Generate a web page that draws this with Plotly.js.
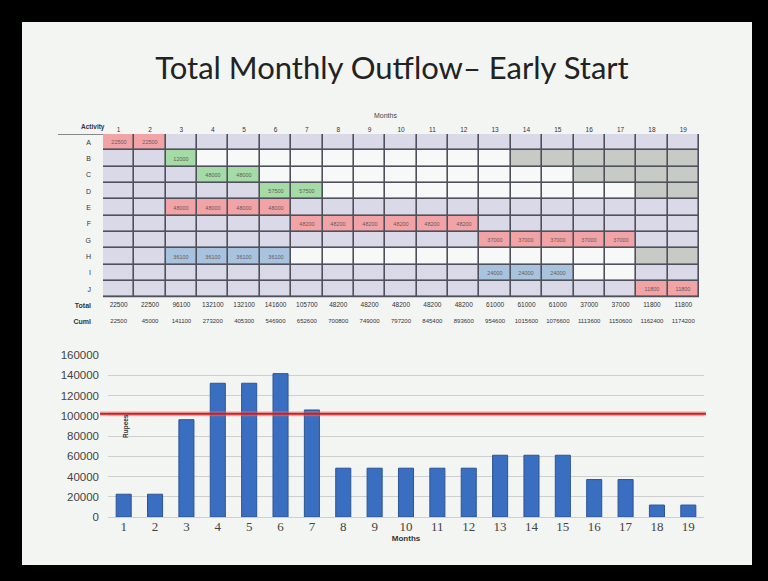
<!DOCTYPE html>
<html>
<head>
<meta charset="utf-8">
<script src="https://cdn.plot.ly/plotly-3.0.1.min.js"></script>
<style>html,body{margin:0;padding:0;background:#000;}#chart{width:768px;height:581px;}</style>
</head>
<body>
<div id="chart"></div>
<script>
// ---- data ----
const months = [1,2,3,4,5,6,7,8,9,10,11,12,13,14,15,16,17,18,19];
const activities = ['A','B','C','D','E','F','G','H','I','J'];
const n = null;
const rowA = [22500,22500,n,n,n,n,n,n,n,n,n,n,n,n,n,n,n,n,n];
const rowB = [n,n,12000,n,n,n,n,n,n,n,n,n,n,n,n,n,n,n,n];
const rowC = [n,n,n,48000,48000,n,n,n,n,n,n,n,n,n,n,n,n,n,n];
const rowD = [n,n,n,n,n,57500,57500,n,n,n,n,n,n,n,n,n,n,n,n];
const rowE = [n,n,48000,48000,48000,48000,n,n,n,n,n,n,n,n,n,n,n,n,n];
const rowF = [n,n,n,n,n,n,48200,48200,48200,48200,48200,48200,n,n,n,n,n,n,n];
const rowG = [n,n,n,n,n,n,n,n,n,n,n,n,37000,37000,37000,37000,37000,n,n];
const rowH = [n,n,36100,36100,36100,36100,n,n,n,n,n,n,n,n,n,n,n,n,n];
const rowI = [n,n,n,n,n,n,n,n,n,n,n,n,24000,24000,24000,n,n,n,n];
const rowJ = [n,n,n,n,n,n,n,n,n,n,n,n,n,n,n,n,n,11800,11800];
const rows = [rowA,rowB,rowC,rowD,rowE,rowF,rowG,rowH,rowI,rowJ];
// cell state: L = not started/finished, W = float, G = beyond, x = scheduled
const cellState = [
  'xxLLLLLLLLLLLLLLLLL',
  'LLxWWWWWWWWWWGGGGGG',
  'LLLxxWWWWWWWWWWGGGG',
  'LLLLLxxWWWWWWWWWWGG',
  'LLxxxxLLLLLLLLLLLLL',
  'LLLLLLxxxxxxLLLLLLL',
  'LLLLLLLLLLLLxxxxxLL',
  'LLxxxxWWWWWWWWWWWGG',
  'LLLLLLLLLLLLxxxWWLL',
  'LLLLLLLLLLLLLLLLLxx'
];
const scheduledKind = ['P','Gr','Gr','Gr','P','P','P','Bl','Bl','P'];
const totals = [22500,22500,96100,132100,132100,141600,105700,48200,48200,48200,48200,48200,61000,61000,61000,37000,37000,11800,11800];
const cumul = [22500,45000,141100,273200,405300,546900,652600,700800,749000,797200,845400,893600,954600,1015600,1076600,1113600,1150600,1162400,1174200];
const limit = [102000];
const yTicks = [0,20000,40000,60000,80000,100000,120000,140000,160000];

// ---- styling ----
const W = 768, H = 581;
const px = v => v / W, py = v => 1 - v / H;
const codeOf = {L:0, W:1, G:2, P:3, Gr:4, Bl:5};
const cellColors = ['#d9d9e8','#f7f8f8','#c6cbc6','#f2a3a6','#a4dba6','#a8c3dd'];
const cs = [];
cellColors.forEach((c,i)=>{cs.push([i/6,c]);cs.push([(i+1)/6,c]);});

const z = cellState.map((s,i)=>s.split('').map(ch => ch==='x' ? codeOf[scheduledKind[i]] : codeOf[ch]));
const txt = rows.map(r => r.map(v => v===null ? '' : String(v)));
const rowIdx = activities.map((a,i)=>i);

const heat = {
  type:'heatmap', x: months, y: rowIdx, z: z, text: txt,
  texttemplate:'%{text}', textfont:{size:5.5, color:'#6a5a5a', family:'Liberation Sans'},
  colorscale: cs, zmin:-0.5, zmax:5.5, showscale:false, xgap:1.6, ygap:1.6,
  xaxis:'x2', yaxis:'y2', hoverinfo:'skip'
};
const totalRow = {
  type:'scatter', mode:'text', x: months, y: months.map(()=>10),
  text: totals.map(String), textfont:{size:6.5, color:'#333', family:'Liberation Sans'},
  xaxis:'x2', yaxis:'y2', hoverinfo:'skip', showlegend:false
};
const cumRow = {
  type:'scatter', mode:'text', x: months, y: months.map(()=>11),
  text: cumul.map(String), textfont:{size:6, color:'#333', family:'Liberation Sans'},
  xaxis:'x2', yaxis:'y2', hoverinfo:'skip', showlegend:false
};
const bars = {
  type:'bar', x: months, y: totals,
  marker:{color:'#3a6ec0', line:{color:'#2c5596', width:1}},
  xaxis:'x', yaxis:'y', hoverinfo:'skip', showlegend:false
};

const layout = {
  width: W, height: H, margin:{l:0,r:0,t:0,b:0},
  paper_bgcolor:'#000', plot_bgcolor:'rgba(0,0,0,0)', showlegend:false,
  bargap: 0.52,
  title:{text:'Total Monthly Outflow– Early Start', x:px(392), xanchor:'center', y:py(68), yanchor:'middle',
         font:{family:'Lato', size:31, color:'#222'}},
  xaxis:{domain:[px(108),px(704)], range:[0.5,19.5], tickvals:months, ticks:'', showgrid:false, zeroline:false,
         showline:false, tickfont:{family:'Liberation Serif', size:13, color:'#444'}, anchor:'y',
         title:{text:'<b>Months</b>', font:{family:'Liberation Sans', size:8, color:'#333'}, standoff:2}},
  yaxis:{domain:[py(517),py(355)], range:[0,160000], tickvals:yTicks, tickformat:'d', ticks:'', gridcolor:'#cfcfcf', gridwidth:1,
         zeroline:true, zerolinecolor:'#cfcfcf', showline:false, ticklabelstandoff:8,
         tickfont:{family:'Liberation Sans', size:11.5, color:'#444'}, anchor:'x'},
  xaxis2:{domain:[px(103),px(699)], range:[0.5,19.5], tickvals:months, side:'top', anchor:'y2', ticks:'',
          showgrid:false, zeroline:false, showline:false,
          tickfont:{family:'Liberation Sans', size:6.5, color:'#333'}},
  yaxis2:{domain:[py(330),py(134)], range:[11.5,-0.5], tickvals:[0,1,2,3,4,5,6,7,8,9,10,11],
          ticktext: activities.concat(['<b>Total</b>','<b>Cuml</b>']), anchor:'x2', ticks:'',
          showgrid:false, zeroline:false, showline:false, ticklabelstandoff:11,
          tickfont:{family:'Liberation Sans', size:7, color:'#333'}},
  shapes:[
    {type:'rect', xref:'paper', yref:'paper', x0:px(22), x1:px(752), y0:py(565), y1:py(22),
     fillcolor:'#f3f5f3', line:{width:0}, layer:'below'},
    {type:'rect', xref:'x2', yref:'y2', x0:0.5, x1:19.5, y0:-0.5, y1:9.5,
     fillcolor:'#50505c', line:{width:0}, layer:'below'},
    {type:'line', xref:'paper', yref:'y', x0:px(100), x1:px(706), y0:limit[0], y1:limit[0],
     line:{color:'rgba(240,120,120,0.45)', width:5}, layer:'above'},
    {type:'line', xref:'paper', yref:'y', x0:px(100), x1:px(706), y0:limit[0], y1:limit[0],
     line:{color:'#d01c1c', width:2}, layer:'above'},
    {type:'line', xref:'paper', yref:'paper', x0:px(58), x1:px(103), y0:py(134.5), y1:py(134.5),
     line:{color:'#888', width:1}}
  ],
  annotations:[
    {text:'Months', xref:'paper', yref:'paper', x:px(385), y:py(110), showarrow:false,
     font:{family:'Liberation Sans', size:7, color:'#444'}},
    {text:'<b>Activity</b>', xref:'paper', yref:'paper', x:px(79), y:py(127), yanchor:'middle', showarrow:false,
     font:{family:'Liberation Sans', size:6.5, color:'#333'}},
    {text:'<b>Rupees</b>', xref:'paper', yref:'paper', x:px(120), y:py(440), showarrow:false, textangle:-90,
     font:{family:'Liberation Sans', size:6.5, color:'#333'}}
  ]
};
Plotly.newPlot('chart', [heat, totalRow, cumRow, bars], layout, {staticPlot:true, displayModeBar:false});
</script>
</body>
</html>
